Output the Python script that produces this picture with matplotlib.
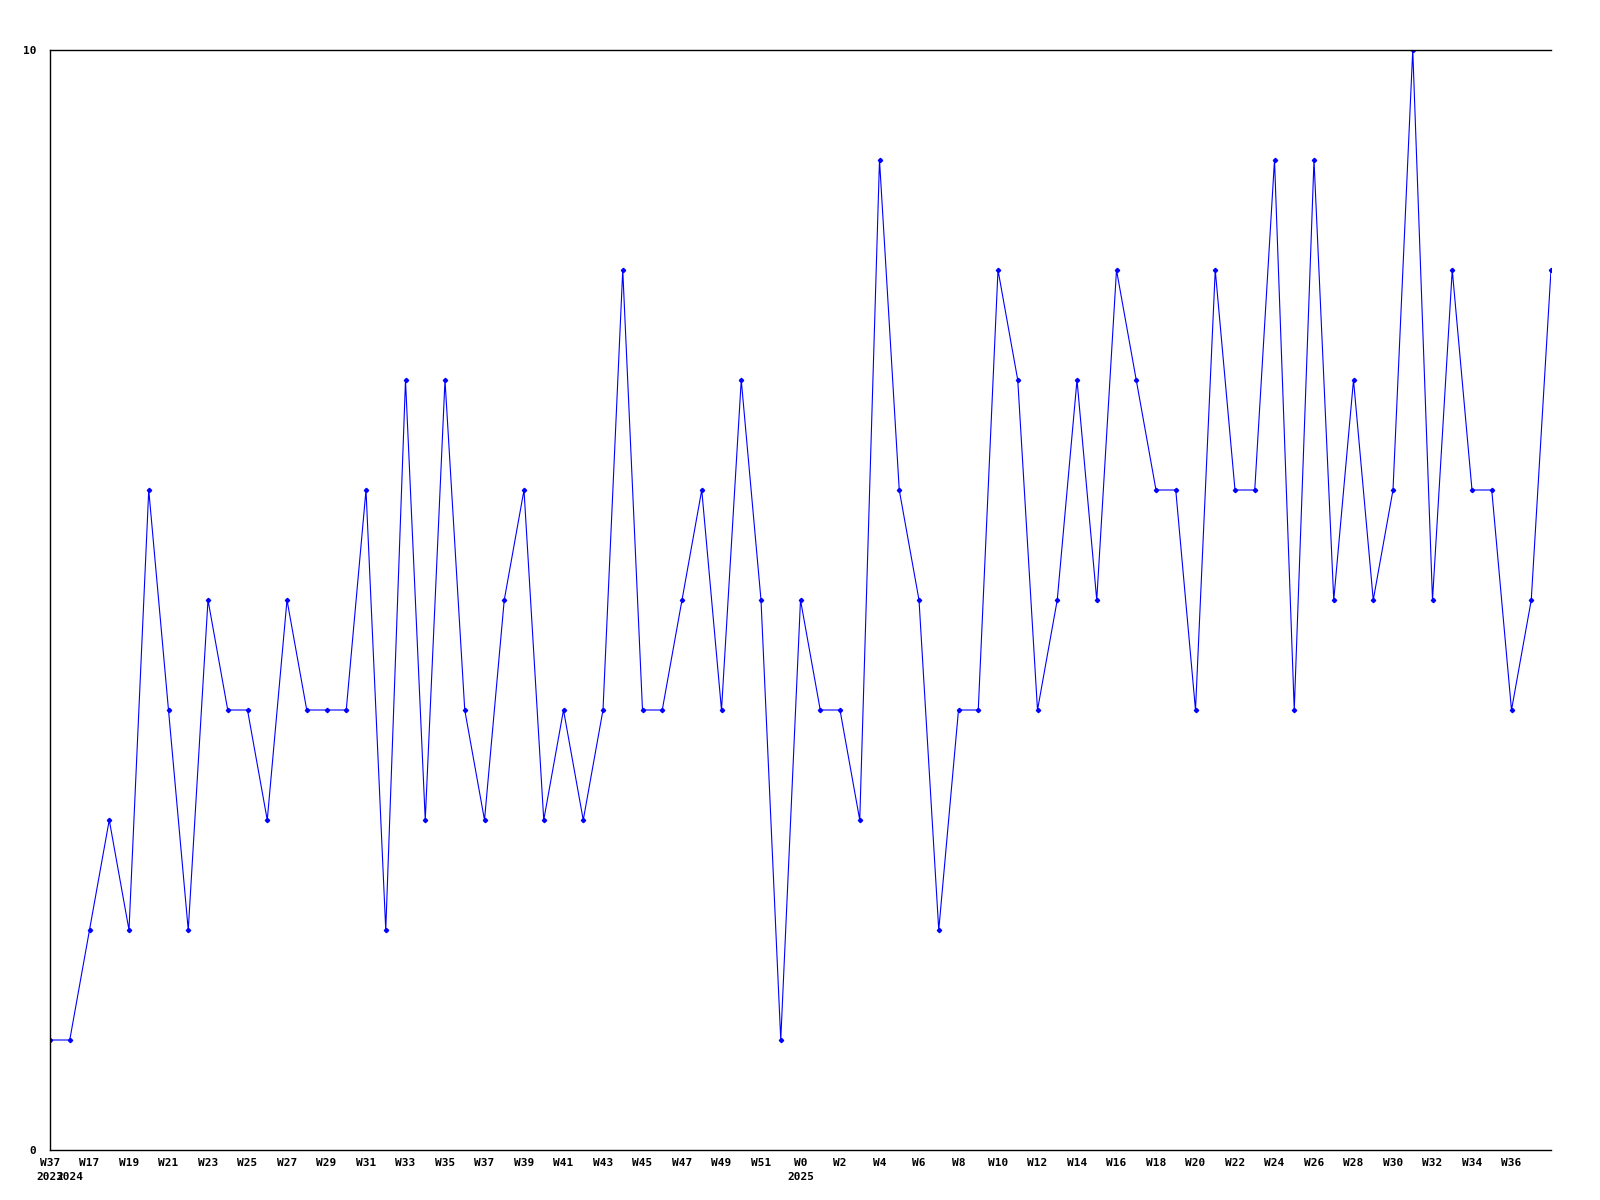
import numpy as np
import matplotlib
matplotlib.use("agg")
from matplotlib import pyplot as plt

# week labels: one point in 2023, then 2024 W16..W52, 2025 W0..W38
weeks = ["W37"] + ["W%d" % w for w in range(16, 53)] + ["W%d" % w for w in range(0, 39)]
years = [2023] + [2024] * 37 + [2025] * 39
values = [1, 1, 2, 3, 2, 6, 4, 2, 5, 4,
          4, 3, 5, 4, 4, 4, 6, 2, 7, 3,
          7, 4, 3, 5, 6, 3, 4, 3, 4, 8,
          4, 4, 5, 6, 4, 7, 5, 1, 5, 4,
          4, 3, 9, 6, 5, 2, 4, 4, 8, 7,
          4, 5, 7, 5, 8, 7, 6, 6, 4, 8,
          6, 6, 9, 4, 9, 5, 7, 5, 6, 10,
          5, 8, 6, 6, 4, 5, 8]

font = dict(family="DejaVu Sans Mono", weight="bold", size=8)

fig = plt.figure(figsize=(16, 12), dpi=100)
ax = fig.add_axes([50 / 1600, 50 / 1200, 1501 / 1600, 1100 / 1200])

xs = np.arange(len(values))
ax.plot(xs, values, color="blue", linewidth=0.8, marker="D", markersize=2.2,
        markerfacecolor="blue", markeredgecolor="blue")

ax.set_xlim(0, len(values) - 1)
ax.set_ylim(0, 10)

# axis frame: left, top, bottom only
ax.spines["right"].set_visible(False)
for s in ["left", "top", "bottom"]:
    ax.spines[s].set_linewidth(1.0)
    ax.spines[s].set_color("black")

ax.set_yticks([0, 10])
ax.set_yticklabels(["0", "10"], **font)
ax.tick_params(axis="y", length=0, pad=10)

tick_idx = list(range(0, len(values) - 1, 2))
ax.set_xticks(tick_idx)
ax.set_xticklabels([weeks[i] for i in tick_idx], **font)
ax.tick_params(axis="x", length=0, pad=6)

# year row under week labels, where the year changes
trans = ax.get_xaxis_transform()
prev = None
for i, y in enumerate(years):
    if y != prev:
        ax.text(i, -0.02, str(y), transform=trans, ha="center", va="top", **font)
        prev = y

fig.savefig("out.png", dpi=100)
